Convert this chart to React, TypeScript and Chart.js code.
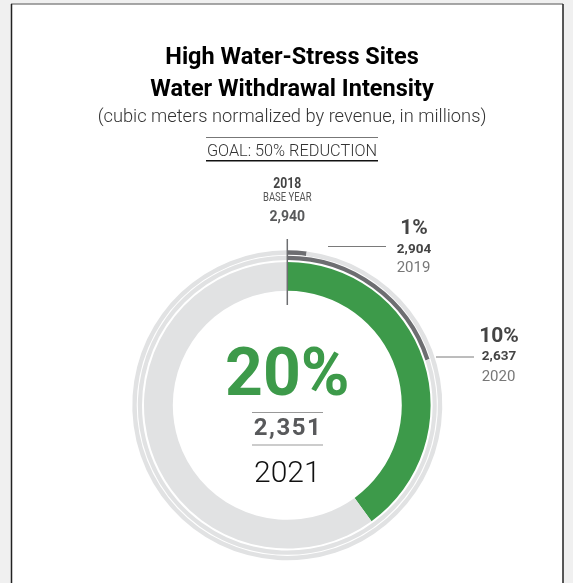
import React, { useEffect, useRef } from "react";
import { Chart, registerables } from "chart.js";

Chart.register(...registerables);

const years = ["2018", "2019", "2020", "2021"];
const withdrawal = [2940, 2904, 2637, 2351];
const reductionPct = [0, 1, 10, 20];
const goalPct = 50;
const titleLines = ["High Water-Stress Sites", "Water Withdrawal Intensity"];
const subtitle = "(cubic meters normalized by revenue, in millions)";
const goalLabel = "GOAL: 50% REDUCTION";
const baseLabel = "BASE YEAR";

const GREEN = "#3d9a4a";
const DARK = "#6d6e71";
const LIGHT = "#e1e2e3";
const NUMGRAY = "#58595b";

const fmt = (v: number) => v.toLocaleString("en-US");

function arcData(pct: number) {
  const v = (pct / goalPct) * 100;
  return [v, 100 - v];
}

export default function App() {
  const ref = useRef<HTMLCanvasElement | null>(null);

  useEffect(() => {
    const canvas = ref.current!;
    const text = (
      ctx: CanvasRenderingContext2D,
      s: string,
      x: number,
      y: number,
      font: string,
      color: string,
      opts: { sx?: number; ls?: number } = {}
    ) => {
      ctx.save();
      ctx.font = font;
      ctx.fillStyle = color;
      ctx.textAlign = "center";
      ctx.textBaseline = "alphabetic";
      (ctx as any).letterSpacing = (opts.ls || 0) + "px";
      ctx.translate(x + (opts.ls || 0) / 2, y);
      if (opts.sx) ctx.scale(opts.sx, 1);
      ctx.fillText(s, 0, 0);
      ctx.restore();
    };
    const line = (
      ctx: CanvasRenderingContext2D,
      x1: number,
      y1: number,
      x2: number,
      y2: number,
      color: string,
      w: number
    ) => {
      ctx.save();
      ctx.strokeStyle = color;
      ctx.lineWidth = w;
      ctx.beginPath();
      ctx.moveTo(x1, y1);
      ctx.lineTo(x2, y2);
      ctx.stroke();
      ctx.restore();
    };

    const decor = {
      id: "decor",
      beforeDraw(chart: any) {
        const ctx = chart.ctx as CanvasRenderingContext2D;
        ctx.save();
        ctx.fillStyle = "#f0f0f0";
        ctx.fillRect(0, 0, 573, 583);
        ctx.fillStyle = "#ffffff";
        ctx.fillRect(11, 4, 552, 590);
        ctx.restore();
        line(ctx, 11, 4, 563, 4, "#8a8a8a", 1.5);
        line(ctx, 11.5, 4, 11.5, 590, "#222", 1.5);
        line(ctx, 563, 4, 563, 590, "#222", 1.5);
      },
      afterDraw(chart: any) {
        const ctx = chart.ctx as CanvasRenderingContext2D;
        const ca = chart.chartArea;
        const cx = (ca.left + ca.right) / 2;
        // titles
        text(ctx, titleLines[0], 292, 64, "700 23.5px Roboto", "#000");
        text(ctx, titleLines[1], 292, 96, "700 23.5px Roboto", "#000");
        text(ctx, subtitle, 292, 122, "300 18.3px Roboto", "#333");
        line(ctx, 206, 137.5, 378, 137.5, "#777", 1);
        text(ctx, goalLabel, 292, 155.9, "300 16.3px Roboto", "#333");
        line(ctx, 206, 160.8, 378, 160.8, "#111", 1.5);
        // base year
        text(ctx, years[0], cx, 188.3, "700 14.5px Roboto", "#444", { sx: 0.84 });
        text(ctx, baseLabel, cx, 201.2, "400 12.5px Roboto", "#555", { sx: 0.76 });
        text(ctx, fmt(withdrawal[0]), cx, 220.7, "700 14px Roboto", NUMGRAY);
        line(ctx, cx, 239, cx, 305, DARK, 1.5);
        // 2019
        line(ctx, 328, 246.5, 386, 246.5, "#7a7a7a", 1);
        text(ctx, reductionPct[1] + "%", 414, 234, "700 21px Roboto", "#444");
        text(ctx, fmt(withdrawal[1]), 414, 252.7, "700 13.5px Roboto", "#444");
        text(ctx, years[1], 413.5, 271.7, "400 15px Roboto", "#777");
        // 2020
        line(ctx, 436, 357, 474, 357, "#7a7a7a", 1);
        text(ctx, reductionPct[2] + "%", 499, 341.7, "700 21px Roboto", "#444");
        text(ctx, fmt(withdrawal[2]), 499, 360, "700 13.5px Roboto", "#444");
        text(ctx, years[2], 498.5, 381, "400 15px Roboto", "#777");
        // center
        text(ctx, reductionPct[3] + "%", cx, 395, "700 66px Roboto", GREEN);
        line(ctx, 252, 412.5, 323, 412.5, "#999", 1);
        text(ctx, fmt(withdrawal[3]), cx, 435, "700 24px Roboto", NUMGRAY, { ls: 1.5 });
        line(ctx, 252, 445, 323, 445, "#999", 1);
        text(ctx, years[3], cx, 481.7, "300 30px Roboto", "#111");
      },
    };

    const chart = new Chart(canvas, {
      type: "doughnut",
      data: {
        labels: ["value", "rest"],
        datasets: [
          { data: arcData(reductionPct[1]), backgroundColor: [DARK, LIGHT], weight: 4.4 } as any,
          { data: [1], backgroundColor: ["rgba(0,0,0,0)"], weight: 1.1 } as any,
          { data: arcData(reductionPct[2]), backgroundColor: [DARK, LIGHT], weight: 4.2 } as any,
          { data: [1], backgroundColor: ["rgba(0,0,0,0)"], weight: 2 } as any,
          { data: arcData(reductionPct[3]), backgroundColor: [GREEN, LIGHT], weight: 28.8 } as any,
        ],
      },
      options: {
        responsive: false,
        animation: false,
        cutout: 114.5,
        layout: { padding: { left: 132.3, top: 250.3, right: 130.7, bottom: 22.7 } },
        elements: { arc: { borderWidth: 0, hoverOffset: 0, offset: 0 } as any },
        plugins: { legend: { display: false }, tooltip: { enabled: false } },
        events: [],
      },
      plugins: [decor],
    });
    return () => chart.destroy();
  }, []);

  return (
    <canvas
      ref={ref}
      width={573}
      height={583}
      style={{ position: "fixed", left: 0, top: 0, width: 573, height: 583 }}
    />
  );
}
